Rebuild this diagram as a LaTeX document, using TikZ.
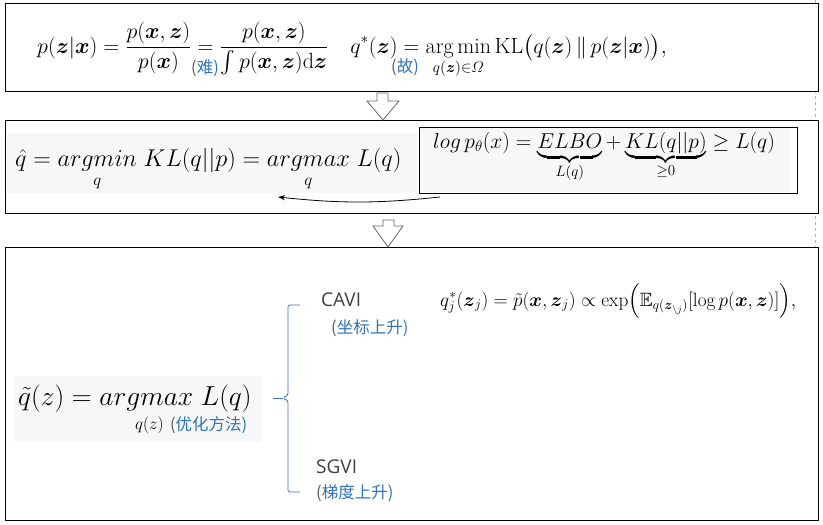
\RequirePackage{fix-cm}
\documentclass[tikz,border=0pt]{standalone}
\usepackage{amsmath}
\usepackage{amssymb}
\usepackage{fontspec}
\setsansfont{Open Sans}
\newfontfamily\cjkfont{Noto Sans CJK SC}
\usetikzlibrary{arrows.meta, positioning}
\usepackage{xcolor}
\definecolor{noteblue}{HTML}{2E75B6}
\definecolor{notegray}{HTML}{595959}
\definecolor{braceblue}{HTML}{4472C4}
\definecolor{shadegray}{HTML}{F7F7F7}
\newcommand{\cjknote}[1]{{\color{notegray}(}{\color{noteblue}#1)}}
\tikzstyle{panel} = [rectangle, draw=black, line width=1.1pt, fill=white, inner sep=0pt, anchor=north west]
\tikzstyle{shade} = [rectangle, fill=shadegray, inner sep=0pt, anchor=north west]
\tikzstyle{hollow} = [draw=black!60, fill=white, line width=0.8pt]
\tikzstyle{arrow} = [line width=0.8pt, -{Stealth[length=7pt, width=5pt]}]
\tikzstyle{brace} = [draw=braceblue, line width=0.9pt, rounded corners=1.5pt]
\tikzstyle{method} = [font=\fontsize{19}{22}\selectfont\sffamily, text=black!75, inner sep=0pt, anchor=west]
\tikzstyle{cjk} = [font=\fontsize{16.5}{19}\selectfont\cjkfont, inner sep=0pt, anchor=west]

\begin{document}
\begin{tikzpicture}[x=1pt, y=-1pt, every node/.style={inner sep=0pt}]
  \useasboundingbox (0,0) rectangle (823,525);
  % page guide
  \draw[black!30, dashed] (815.5,0) -- (815.5,247);

  % Posterior
  \node[panel, minimum width=813pt, minimum height=88pt] (top) at (5,3) {};
  \node[anchor=base west, font=\fontsize{22}{26}\selectfont] (posterior) at (37,53)
    {$\displaystyle p(\boldsymbol{z}|\boldsymbol{x}) = \frac{p(\boldsymbol{x},\boldsymbol{z})}{p(\boldsymbol{x})} = \frac{p(\boldsymbol{x},\boldsymbol{z})}{\int p(\boldsymbol{x},\boldsymbol{z})\mathrm{d}\boldsymbol{z}} \quad q^*(\boldsymbol{z}) = \operatorname*{arg\,min}_{q(\boldsymbol{z})\in\varOmega} \mathrm{KL}\bigl(q(\boldsymbol{z})\,\|\,p(\boldsymbol{z}|\boldsymbol{x})\bigr),$};
  \node[cjk] (hard) at (191,68) {\cjknote{难}};
  \node[cjk] (hence) at (391,67) {\cjknote{故}};

  % KL and ELBO
  \node[panel, minimum width=813pt, minimum height=93pt] (mid) at (5,120) {};
  \node[shade, minimum width=411pt, minimum height=60pt] (klbg) at (7,133) {};
  \node[anchor=base west, font=\fontsize{24.3}{28}\selectfont] (kl) at (15,166)
    {$\hat{q} = \underset{q}{argmin}\; KL(q||p) = \underset{q}{argmax}\; L(q)$};
  \node[shade, minimum width=370pt, minimum height=64pt] (elbobg) at (420,128) {};
  \node[panel, fill=none, line width=1pt, minimum width=378pt, minimum height=66pt] (elbo) at (419,127) {};
  \node[anchor=base west, font=\fontsize{21.5}{25}\selectfont] (bound) at (433,148)
    {$log\, p_\theta(x) = \underbrace{\mathstrut ELBO}_{L(q)} + \underbrace{\mathstrut KL(q||p)}_{\geq 0} \geq L(q)$};
  \coordinate (elbo-out) at (440,197);
  \coordinate (kl-in) at (278,197);
  \draw[arrow] (elbo-out) to[bend left=6] (kl-in);

  % Optimisation
  \node[panel, minimum width=813pt, minimum height=273pt] (low) at (5,247) {};
  \node[shade, minimum width=248pt, minimum height=66pt] (optbg) at (14,376) {};
  \node[anchor=base west, font=\fontsize{27.5}{32}\selectfont] (opt) at (18,405)
    {$\tilde{q}(z) = argmax\; L(q)$};
  \node[anchor=west, font=\fontsize{17}{20}\selectfont] (optsub) at (135,425) {$q(z)$};
  \node[cjk, right=6pt of optsub] (method) {\cjknote{优化方法}};

  \draw[brace] (300,305) -- (288,305) -- (288,395) -- (283,398) -- (288,401) -- (288,492) -- (300,492);
  \draw[brace] (283,398) -- (273,398);

  \node[method] (cavi) at (321,300) {CAVI};
  \node[cjk] (coord) at (331,328) {\cjknote{坐标上升}};
  \node[anchor=base west, font=\fontsize{19.3}{23}\selectfont] (update) at (440,306)
    {$q_j^*(\boldsymbol{z}_j) = \tilde{p}(\boldsymbol{x},\boldsymbol{z}_j) \propto \exp\Bigl(\mathbb{E}_{q(\boldsymbol{z}_{\setminus j})}[\log p(\boldsymbol{x},\boldsymbol{z})]\Bigr),$};
  \node[method] (sgvi) at (316,467) {SGVI};
  \node[cjk] (grad) at (316,493) {\cjknote{梯度上升}};

  % hollow arrows
  \draw[hollow] (377,93) -- (388,93) -- (388,101) -- (399,101) -- (383,120) -- (367,101) -- (377,101) -- cycle;
  \draw[hollow] (383,220) -- (394,220) -- (394,226) -- (403,226) -- (388,247) -- (373,226) -- (383,226) -- cycle;
\end{tikzpicture}
\end{document}
